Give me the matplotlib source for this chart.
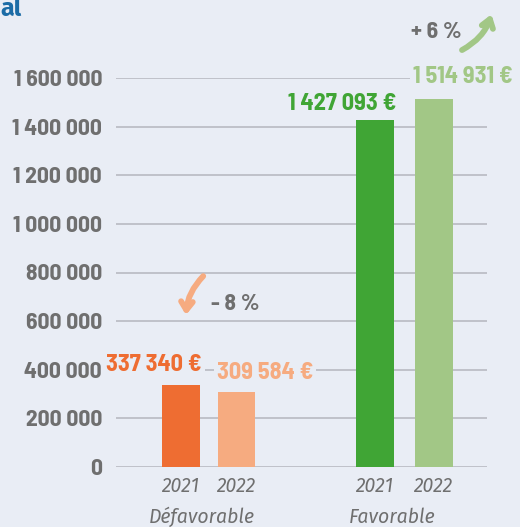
import matplotlib
matplotlib.use("Agg")
import matplotlib.pyplot as plt
import numpy as np

# --- data ---
groups = ["Défavorable", "Favorable"]
years = ["2021", "2022", "2021", "2022"]
values = [337340, 309584, 1427093, 1514931]
value_labels = ["337 340 €", "309 584 €", "1 427 093 €", "1 514 931 €"]
yticks = [0, 200000, 400000, 600000, 800000, 1000000, 1200000, 1400000, 1600000]
ytick_labels = ["0", "200 000", "400 000", "600 000", "800 000",
                "1 000 000", "1 200 000", "1 400 000", "1 600 000"]
changes = ["- 8 %", "+ 6 %"]

# --- style ---
BG = "#E9EDF5"
GRAY = "#6F6F6F"
GRID = "#B4B6BE"
colors = ["#EE6D32", "#F6AB80", "#40A535", "#A2C786"]
COND = ["Barlow Semi Condensed", "DejaVu Sans"]
ITAL = ["Fira Sans", "DejaVu Sans"]

x = np.array([0, 1, 3.5, 4.55])
bar_w = 0.68

fig = plt.figure(figsize=(5.2, 5.27), dpi=100, facecolor=BG)
ax = fig.add_axes([116 / 520, 60 / 527, 371 / 520, 389 / 527], facecolor=BG)

ax.bar(x, values, width=bar_w, color=colors, zorder=3)

ax.set_xlim(-1.17, 5.51)
ax.set_ylim(0, 1600000)
ax.set_yticks(yticks)
ax.set_yticklabels(ytick_labels, family=COND, fontweight="bold",
                   fontsize=17, color=GRAY)
ax.set_xticks(x)
ax.set_xticklabels(years, family=ITAL, style="italic", fontsize=14, color=GRAY)
ax.tick_params(axis="y", length=0, pad=10)
ax.tick_params(axis="x", length=0, pad=7)
ax.yaxis.grid(True, color=GRID, linewidth=1.1, zorder=0)
ax.set_axisbelow(True)
for s in ax.spines.values():
    s.set_visible(False)

# group names under years
group_dx = [-5, -9]
for g, cx, gdx in zip(groups, [(x[0] + x[1]) / 2, (x[2] + x[3]) / 2], group_dx):
    ax.annotate(g, xy=(cx, 0), xytext=(gdx, -36), textcoords="offset points",
                ha="center", va="center", family=ITAL, style="italic",
                fontsize=14, color=GRAY, annotation_clip=False)

# value labels
label_dx = [bar_w / 2 + 0.04, -bar_w / 2 - 0.02, bar_w / 2 + 0.03, -bar_w / 2 - 0.04]
label_ha = ["right", "left", "right", "left"]
label_dy = [10, 9.4, 7, 11]
for xi, v, lab, c, dx, ha, dy in zip(x, values, value_labels, colors,
                                     label_dx, label_ha, label_dy):
    ax.annotate(lab, xy=(xi + dx, v), xytext=(0, dy), textcoords="offset points",
                ha=ha, va="baseline", family=COND, fontweight="bold",
                fontsize=17.5, color=c, zorder=4, annotation_clip=False,
                bbox=dict(boxstyle="square,pad=0.12", fc=BG, ec="none"))

# change arrows
arrow_style = "->,head_length=0.6,head_width=0.42"
ax.annotate("", xy=(0.09, 625000), xytext=(0.40, 785000),
            arrowprops=dict(arrowstyle=arrow_style, color=colors[1], lw=4.2,
                            connectionstyle="arc3,rad=0.18",
                            capstyle="round", joinstyle="round",
                            shrinkA=0, shrinkB=0),
            annotation_clip=False)
ax.text(0.54, 670000, changes[0], ha="left", va="center", family=COND,
        fontweight="bold", fontsize=17, color=GRAY)

ax.annotate("", xy=(5.59, 1862000), xytext=(5.06, 1715000),
            arrowprops=dict(arrowstyle=arrow_style, color=colors[3], lw=4.2,
                            connectionstyle="arc3,rad=0.2",
                            capstyle="round", joinstyle="round",
                            shrinkA=0, shrinkB=0),
            annotation_clip=False)
ax.text(4.14, 1790000, changes[1], ha="left", va="center", family=COND,
        fontweight="bold", fontsize=17, color=GRAY)

# cropped title
fig.text(0.0, 1 - 16 / 527, "al", ha="left", va="baseline", family=ITAL,
         fontweight="bold", fontsize=18, color="#1C6CA6")

fig.savefig("out.png", dpi=100, facecolor=BG)
